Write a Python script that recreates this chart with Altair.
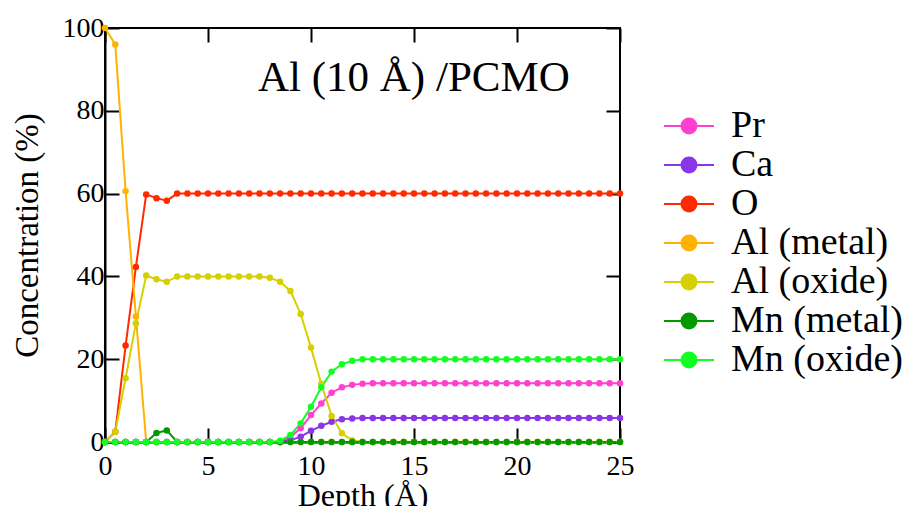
import altair as alt
import pandas as pd

depth = [0, 0.5, 1, 1.5, 2, 2.5, 3, 3.5, 4, 4.5, 5, 5.5, 6, 6.5, 7, 7.5, 8, 8.5,
         9, 9.5, 10, 10.5, 11, 11.5, 12, 12.5, 13, 13.5, 14, 14.5, 15, 15.5, 16,
         16.5, 17, 17.5, 18, 18.5, 19, 19.5, 20, 20.5, 21, 21.5, 22, 22.5, 23,
         23.5, 24, 24.5, 25]

pr = [0, 0, 0, 0, 0, 0, 0, 0, 0, 0, 0, 0, 0, 0, 0, 0, 0, 0,
      1.2, 3.3, 6.5, 9.3, 11.9, 13.2, 13.8, 14.1,
      14.2, 14.2, 14.2, 14.2, 14.2, 14.2, 14.2, 14.2, 14.2, 14.2, 14.2, 14.2, 14.2,
      14.2, 14.2, 14.2, 14.2, 14.2, 14.2, 14.2, 14.2, 14.2, 14.2, 14.2, 14.2]

ca = [0, 0, 0, 0, 0, 0, 0, 0, 0, 0, 0, 0, 0, 0, 0, 0, 0, 0,
      0.4, 1.3, 2.7, 3.9, 4.9, 5.5, 5.7, 5.8,
      5.8, 5.8, 5.8, 5.8, 5.8, 5.8, 5.8, 5.8, 5.8, 5.8, 5.8, 5.8, 5.8,
      5.8, 5.8, 5.8, 5.8, 5.8, 5.8, 5.8, 5.8, 5.8, 5.8, 5.8, 5.8]

o = [0, 2.5, 23.3, 42.3, 59.8, 58.9, 58.3,
     60, 60, 60, 60, 60, 60, 60, 60, 60, 60, 60, 60, 60, 60, 60, 60, 60, 60, 60, 60,
     60, 60, 60, 60, 60, 60, 60, 60, 60, 60, 60, 60, 60, 60, 60, 60, 60, 60, 60, 60,
     60, 60, 60, 60]

al_metal = [100, 96, 60.6, 30.3,
            0, 0, 0, 0, 0, 0, 0, 0, 0, 0, 0, 0, 0, 0, 0, 0, 0, 0, 0, 0, 0, 0, 0,
            0, 0, 0, 0, 0, 0, 0, 0, 0, 0, 0, 0, 0, 0, 0, 0, 0, 0, 0, 0, 0, 0, 0, 0]

al_oxide = [0, 2.5, 15.4, 28.7, 40.2, 39.3, 38.7,
            40, 40, 40, 40, 40, 40, 40, 40, 40,
            39.7, 38.7, 36.5, 30.9, 22.8, 14.0, 6.3, 2.1, 0.4,
            0, 0, 0, 0, 0, 0, 0, 0, 0, 0, 0, 0, 0, 0, 0, 0, 0, 0, 0, 0, 0, 0, 0,
            0, 0, 0]

mn_metal = [0, 0, 0, 0, 0, 2.2, 2.8,
            0, 0, 0, 0, 0, 0, 0, 0, 0, 0, 0, 0, 0, 0, 0, 0, 0, 0, 0, 0, 0, 0, 0,
            0, 0, 0, 0, 0, 0, 0, 0, 0, 0, 0, 0, 0, 0, 0, 0, 0, 0, 0, 0, 0]

mn_oxide = [0, 0, 0, 0, 0, 0, 0, 0, 0, 0, 0, 0, 0, 0, 0, 0, 0,
            0.3, 1.7, 4.5, 8.5, 13.2, 17.0, 18.8, 19.6,
            20, 20, 20, 20, 20, 20, 20, 20, 20, 20, 20, 20, 20, 20, 20, 20, 20,
            20, 20, 20, 20, 20, 20, 20, 20, 20]

names = ["Pr", "Ca", "O", "Al (metal)", "Al (oxide)", "Mn (metal)", "Mn (oxide)"]
colors = ["#ff3fd0", "#8a35e8", "#ff2a00", "#ffb300", "#d6d000", "#009a00", "#11ff22"]
series = [pr, ca, o, al_metal, al_oxide, mn_metal, mn_oxide]

x_ticks = [0, 5, 10, 15, 20, 25]
y_ticks = [0, 20, 40, 60, 80, 100]

rows = []
for name, vals in zip(names, series):
    for d, v in zip(depth, vals):
        rows.append({"depth": d, "value": v, "series": name})
df = pd.DataFrame(rows)

FONT = "Liberation Serif, Times New Roman, Times, serif"
legend_path = ("M-1.316,0L1.316,0M-0.395,0A0.395,0.395,0,1,0,0.395,0"
               "A0.395,0.395,0,1,0,-0.395,0Z")

xscale = alt.Scale(domain=[0, 25], nice=False, zero=False)
yscale = alt.Scale(domain=[0, 100], nice=False)
cscale = alt.Scale(domain=names, range=colors)
inward = {"expr": "-14"}


def make_legend():
    return alt.Legend(
        title=None,
        orient="none",
        legendX=564,
        legendY=78,
        padding=0,
        symbolType=legend_path,
        symbolSize=1444,
        symbolStrokeWidth=2,
        symbolOpacity=1,
        labelFont=FONT,
        labelFontSize=38,
        labelColor="black",
        labelOffset=22,
        rowPadding=-1,
        labelLimit=300,
    )


base = alt.Chart(df)

x_main = alt.X("depth:Q", scale=xscale,
               axis=alt.Axis(values=x_ticks, title="Depth (Å)", tickSize=inward,
                             labelPadding=24, titlePadding=0, orient="bottom",
                             labelFlush=False, titleFontSize=32))
y_main = alt.Y("value:Q", scale=yscale,
               axis=alt.Axis(values=y_ticks, title="Concentration (%)", tickSize=inward,
                             labelPadding=15, titlePadding=18, orient="left",
                             labelFlush=False))

lines = base.mark_line(strokeWidth=2).encode(
    x=x_main,
    y=y_main,
    stroke=alt.Stroke("series:N", scale=cscale, sort=names, legend=make_legend()),
)

points = base.mark_point(filled=True, size=42, opacity=1).encode(
    x=alt.X("depth:Q", scale=xscale, axis=None),
    y=alt.Y("value:Q", scale=yscale, axis=None),
    fill=alt.Fill("series:N", scale=cscale, sort=names, legend=make_legend()),
)

mirror = base.mark_point(opacity=0).encode(
    x=alt.X("depth:Q", scale=xscale,
            axis=alt.Axis(orient="top", values=x_ticks, labels=False, domain=False,
                          title=None, tickSize=inward)),
    y=alt.Y("value:Q", scale=yscale,
            axis=alt.Axis(orient="right", values=y_ticks, labels=False, domain=False,
                          title=None, tickSize=inward)),
)

chart = alt.layer(lines, points, mirror).resolve_axis(
    x="independent", y="independent"
).properties(
    width=515,
    height=414,
    autosize=alt.AutoSizeParams(type="none"),
    padding={"left": 97, "top": 20, "right": 286, "bottom": 64},
    title=alt.TitleParams(
        "Al (10 Å) /PCMO",
        anchor="start",
        frame="group",
        dx=153,
        dy=120,
        offset=0,
        baseline="alphabetic",
        font=FONT,
        fontSize=43,
        fontWeight="normal",
        color="black",
    ),
).configure_view(
    stroke="black", strokeWidth=2
).configure_axis(
    grid=False,
    domainColor="black",
    domainWidth=2,
    tickColor="black",
    tickWidth=2,
    labelFont=FONT,
    labelFontSize=28,
    labelColor="black",
    titleFont=FONT,
    titleFontSize=33,
    titleFontWeight="normal",
    titleColor="black",
)

chart.save("out.html", embed_options={"renderer": "svg", "actions": False})
